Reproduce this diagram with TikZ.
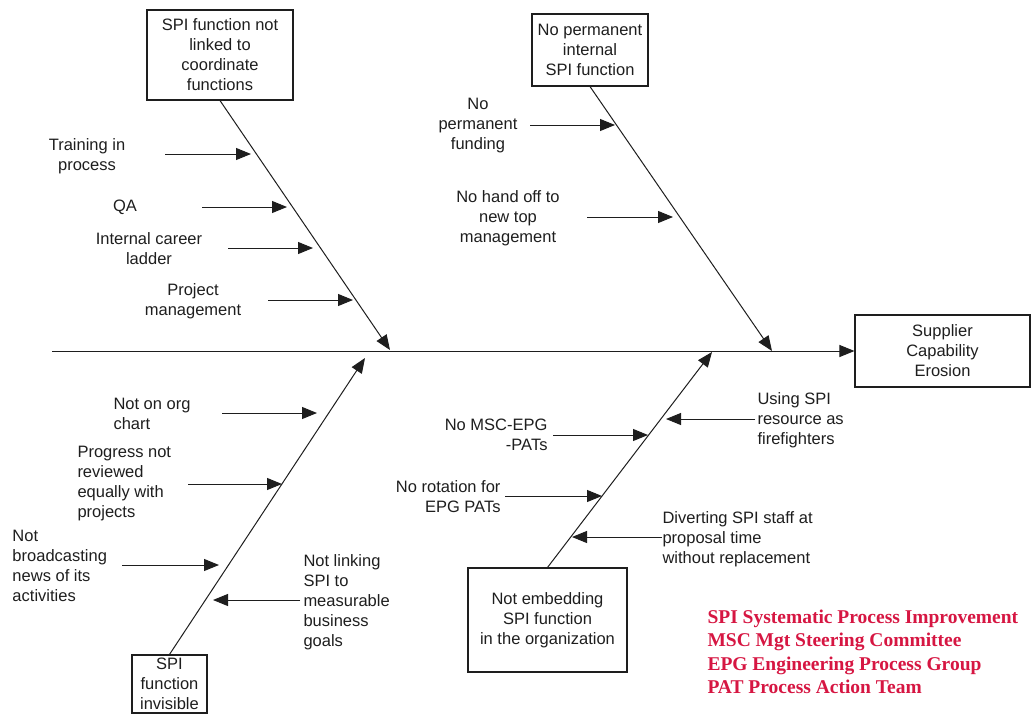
\documentclass[tikz,border=0pt]{standalone}
\usepackage{fontspec}
\setmainfont{Liberation Sans}
\newfontfamily\legendfont{Liberation Serif}
\usetikzlibrary{arrows.meta}
\definecolor{legendred}{RGB}{214,22,66}
\definecolor{ink}{RGB}{30,30,30}
\begin{document}
\begin{tikzpicture}[x=1pt, y=-1pt, line width=1pt, draw=ink,
  every node/.style={font=\fontsize{16.5}{20}\selectfont, inner sep=0pt, text=ink},
  bx/.style={draw=ink, line width=1.1pt, align=center},
  arr/.style={draw=ink, -{Triangle[length=15pt,width=12pt]}}]
\useasboundingbox (0,0) rectangle (1031,715);
\node[bx, minimum width=175pt, minimum height=72pt] (effect) at (942.5,351) {Supplier\\Capability\\Erosion};
\node[bx, minimum width=146pt, minimum height=90pt] (c1) at (220,55) {SPI function not\\linked to\\coordinate\\functions};
\node[bx, minimum width=116pt, minimum height=72pt] (c2) at (590,50) {No permanent\\internal\\SPI function};
\node[bx, minimum width=159pt, minimum height=104pt] (c3) at (547.5,620) {Not embedding\\SPI function\\in the organization};
\node[bx, minimum width=75pt, minimum height=58pt] (c4) at (169.5,684) {SPI\\function\\invisible};
\coordinate (sp0) at (52,351);
\coordinate (h1) at (390,350); \coordinate (h2) at (772,351); \coordinate (h3) at (712,352); \coordinate (h4) at (365,358);
\draw[arr] (sp0) -- (effect.west);
\draw[arr] (c1.south) -- (h1);
\draw[arr] (c2.south) -- (h2);
\draw[arr] (c3.north) -- (h3);
\draw[arr] (c4.north) -- (h4);
\node[align=center] (train) at (87,156) {Training in\\process};
\node[align=center] (qa) at (125,207) {QA};
\node[align=center] (career) at (149,249) {Internal career\\ladder};
\node[align=center] (pm) at (193,301) {Project\\management};
\node[align=center] (fund) at (478,126) {No\\permanent\\funding};
\node[align=center] (handoff) at (508,218) {No hand off to\\new top\\management};
\node[align=left, anchor=west] (orgchart) at (113,414) {Not on org\\chart};
\node[align=left, anchor=west] (review) at (77,484) {Progress not\\reviewed\\equally with\\projects};
\node[align=left, anchor=west] (broadcast) at (12,566) {Not\\broadcasting\\news of its\\activities};
\node[align=left, anchor=west] (goals) at (303,602) {Not linking\\SPI to\\measurable\\business\\goals};
\node[align=right, anchor=east] (pats) at (548,435) {No MSC-EPG\\-PATs};
\node[align=right, anchor=east] (rotation) at (501,497) {No rotation for\\EPG PATs};
\node[align=left, anchor=west] (firefight) at (757,420) {Using SPI\\resource as\\firefighters};
\node[align=left, anchor=west] (divert) at (662,539) {Diverting SPI staff at\\proposal time\\without replacement};
\coordinate (train0) at (165,154); \coordinate (train1) at (251,154);
\coordinate (qa0) at (202,207); \coordinate (qa1) at (287,207);
\coordinate (career0) at (228,248); \coordinate (career1) at (313,248);
\coordinate (pm0) at (268,300); \coordinate (pm1) at (353,300);
\coordinate (fund0) at (530,125); \coordinate (fund1) at (615,125);
\coordinate (handoff0) at (587,217); \coordinate (handoff1) at (673,217);
\coordinate (orgchart0) at (222,413); \coordinate (orgchart1) at (317,413);
\coordinate (review0) at (188,484); \coordinate (review1) at (282,484);
\coordinate (broadcast0) at (122,565); \coordinate (broadcast1) at (219,565);
\coordinate (goals0) at (300,600); \coordinate (goals1) at (213,600);
\coordinate (pats0) at (553,435); \coordinate (pats1) at (648,435);
\coordinate (rotation0) at (505,496); \coordinate (rotation1) at (602,496);
\coordinate (firefight0) at (755,419); \coordinate (firefight1) at (666,419);
\coordinate (divert0) at (662,537); \coordinate (divert1) at (572,537);
\draw[arr] (train0) -- (train1);
\draw[arr] (qa0) -- (qa1);
\draw[arr] (career0) -- (career1);
\draw[arr] (pm0) -- (pm1);
\draw[arr] (fund0) -- (fund1);
\draw[arr] (handoff0) -- (handoff1);
\draw[arr] (orgchart0) -- (orgchart1);
\draw[arr] (review0) -- (review1);
\draw[arr] (broadcast0) -- (broadcast1);
\draw[arr] (goals0) -- (goals1);
\draw[arr] (pats0) -- (pats1);
\draw[arr] (rotation0) -- (rotation1);
\draw[arr] (firefight0) -- (firefight1);
\draw[arr] (divert0) -- (divert1);
\node[align=left, anchor=west, text=legendred, font=\legendfont\bfseries\fontsize{19.5}{23.4}\selectfont] (legend) at (707,652) {SPI Systematic Process Improvement\\MSC Mgt Steering Committee\\EPG Engineering Process Group\\PAT Process Action Team};
\end{tikzpicture}
\end{document}
